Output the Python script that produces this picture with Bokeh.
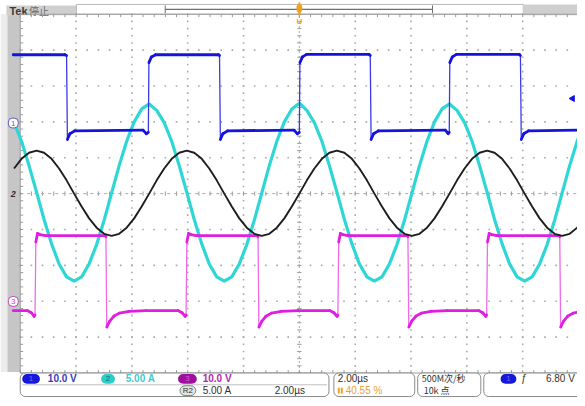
from bokeh.plotting import figure
from bokeh.models import Range1d
from bokeh.embed import file_html
from bokeh.resources import INLINE
from bokeh.core.properties import value
import numpy as np

# ---------------- data ----------------
# time axis: microseconds, trigger at 0, 2.00 us/div
sine_t = [-10.222, -9.953, -9.684, -9.415, -9.146, -8.877, -8.608, -8.339, -8.070, -7.801,
          -7.532, -7.263, -6.994, -6.725, -6.456, -6.187, -5.918, -5.649, -5.380, -5.111,
          -4.842, -4.573, -4.304, -4.035, -3.766, -3.497, -3.228, -2.959, -2.690, -2.421,
          -2.152, -1.883, -1.614, -1.345, -1.076, -0.807, -0.538, -0.269, 0.000, 0.269,
          0.538, 0.807, 1.076, 1.345, 1.614, 1.883, 2.152, 2.421, 2.690, 2.959,
          3.228, 3.497, 3.766, 4.035, 4.304, 4.573, 4.842, 5.111, 5.380, 5.649,
          5.918, 6.187, 6.456, 6.725, 6.994, 7.263, 7.532, 7.801, 8.070, 8.339,
          8.608, 8.877, 9.146, 9.415, 9.684, 9.953, 10.222]

# CH2 (cyan) current, A  (5.00 A/div)
ch2_A = [9.9, 7.3, 3.9, 0.2, -3.6, -7.0, -9.8, -11.6, -12.2, -11.6, -9.8, -7.1, -3.7, 0.1, 3.9, 7.3, 10.0, 11.8,
         12.5, 11.6, 9.9, 7.3, 3.9, 0.2, -3.6, -7.0, -9.8, -11.6, -12.2, -11.6, -9.8, -7.1, -3.7, 0.1, 3.9, 7.3, 10.0, 11.8,
         12.6, 11.6, 9.9, 7.3, 3.9, 0.2, -3.6, -7.0, -9.8, -11.6, -12.2, -11.6, -9.8, -7.1, -3.7, 0.1, 3.9, 7.3, 10.0, 11.8,
         12.5, 11.6, 9.9, 7.3, 3.9, 0.2, -3.6, -7.0, -9.8, -11.6, -12.2, -11.6, -9.8, -7.1, -3.7, 0.1, 3.9, 7.3, 10.0]

# R2 (black) reference current, A  (5.00 A/div)
r2_A = [3.5, 4.85, 5.7, 6.0, 5.7, 4.85, 3.5, 1.85, 0.0, -1.8, -3.45, -4.75, -5.6, -5.9, -5.6, -4.75, -3.45, -1.8,
        0.0, 1.85, 3.5, 4.85, 5.7, 6.0, 5.7, 4.85, 3.5, 1.85, 0.0, -1.8, -3.45, -4.75, -5.6, -5.9, -5.6, -4.75, -3.45, -1.8,
        0.0, 1.85, 3.5, 4.85, 5.7, 6.0, 5.7, 4.85, 3.5, 1.85, 0.0, -1.8, -3.45, -4.75, -5.6, -5.9, -5.6, -4.75, -3.45, -1.8,
        0.0, 1.85, 3.5, 4.85, 5.7, 6.0, 5.7, 4.85, 3.5, 1.85, 0.0, -1.8, -3.45, -4.75, -5.6, -5.9, -5.6, -4.75, -3.45]

# CH1 (blue) voltage, V (10.0 V/div)
ch1_t = [-10.25, -8.40, -8.34, -8.31, -8.22, -8.05, -5.60, -5.48, -5.41, -5.39, -5.30, -5.15,
         -2.90, -2.86, -2.83, -2.74, -2.57, -0.19, -0.07, 0.00, 0.02, 0.11, 0.26,
         2.50, 2.54, 2.57, 2.66, 2.83, 5.23, 5.33, 5.37, 5.39, 5.48, 5.63,
         7.88, 7.92, 7.95, 8.04, 8.21, 10.25]
ch1_V = [19.0, 19.0, 18.8, -4.6, -3.0, -2.2, -2.0, -3.0, -2.6, 16.8, 18.4, 19.0,
         19.0, 18.8, -4.6, -3.0, -2.2, -2.0, -3.0, -2.6, 16.8, 18.4, 19.1,
         19.1, 18.8, -4.6, -3.0, -2.2, -2.0, -3.0, -2.6, 16.8, 18.4, 19.1,
         19.1, 18.8, -4.6, -3.0, -2.2, -2.0]

# CH3 (magenta) voltage, V (10.0 V/div)
ch3_t = [-10.25, -9.75, -9.60, -9.50, -9.47, -9.44, -9.38, -9.30, -9.10,
         -6.96, -6.93, -6.90, -6.80, -6.65, -6.45, -6.10, -5.50,
         -4.35, -4.20, -4.09, -4.06, -4.03, -3.97, -3.89, -3.69,
         -1.51, -1.48, -1.45, -1.35, -1.20, -1.00, -0.65, -0.05,
         1.09, 1.24, 1.35, 1.38, 1.41, 1.47, 1.55, 1.75,
         3.86, 3.89, 3.92, 4.02, 4.17, 4.37, 4.72, 5.30,
         6.42, 6.57, 6.68, 6.71, 6.74, 6.80, 6.88, 7.08,
         9.30, 9.33, 9.36, 9.46, 9.61, 9.81, 10.16, 10.30]
ch3_V = [-2.6, -2.6, -3.2, -4.2, -3.8, 16.5, 18.9, 18.6, 18.3,
         18.3, 18.0, -7.2, -5.6, -4.2, -3.3, -2.8, -2.6,
         -2.6, -3.2, -4.2, -3.8, 16.5, 18.9, 18.6, 18.3,
         18.3, 18.0, -7.2, -5.6, -4.2, -3.3, -2.8, -2.6,
         -2.6, -3.2, -4.2, -3.8, 16.5, 18.9, 18.6, 18.3,
         18.3, 18.0, -7.2, -5.6, -4.2, -3.3, -2.8, -2.6,
         -2.6, -3.2, -4.2, -3.8, 16.5, 18.9, 18.6, 18.3,
         18.3, 18.0, -7.2, -5.6, -4.2, -3.3, -2.8, -2.7]

# vertical settings: volts (or amps) per division and ground offset in divisions
scale = {"ch1": 10.0, "ch2": 5.0, "ch3": 10.0, "r2": 5.0}
offset = {"ch1": 1.97, "ch2": 0.0, "ch3": -3.0, "r2": 0.0}
trig_level_V = 6.80

row1_labels = ["10.0 V", "5.00 A", "10.0 V"]
row2_labels = ["5.00 A", "2.00\u00b5s"]
timebase_label = "2.00\u00b5s"
position_label = "40.55 %"
rate_label = "500M\u6b21/\u79d2"
points_label = "10k \u70b9"
trig_label = "6.80 V"

# ---------------- layout helpers (reference pixel -> data coords) ----------------
X0, PXU = 303.0, 28.3    # px of t=0, px per microsecond
Y0, PYD = 197.0, 36.6    # px of centre line, px per division


def X(px):
    return (px - X0) / PXU


def Y(py):
    return (Y0 - py) / PYD


def W(dpx):
    return dpx / PXU


def H(dpy):
    return dpy / PYD


p = figure(width=577, height=398, output_backend="svg", toolbar_location=None,
           x_range=Range1d(X(0), X(585)), y_range=Range1d(Y(406), Y(0)),
           x_axis_type=None, y_axis_type=None, min_border=0)
p.outline_line_color = None
p.grid.visible = False
p.background_fill_color = "white"

FONT = value("Liberation Sans")
CJK = value("Noto Sans CJK SC")

# ---------------- frame decorations ----------------
p.quad(left=[X(0)], right=[X(7)], top=[Y(14)], bottom=[Y(379)], fill_color="#ececec", line_color=None)
p.quad(left=[X(7)], right=[X(20)], top=[Y(14)], bottom=[Y(379)], fill_color="#c6c6c6", line_color=None)
p.quad(left=[X(6)], right=[X(77)], top=[Y(5)], bottom=[Y(15)], fill_color="#cfcfcf", line_color=None)
p.quad(left=[X(77)], right=[X(530)], top=[Y(4)], bottom=[Y(14)], fill_color="white", line_color="#b8b8b8")
p.quad(left=[X(530)], right=[X(590)], top=[Y(4)], bottom=[Y(15)], fill_color="#cfcfcf", line_color=None)
p.segment(x0=[X(167)], y0=[Y(9)], x1=[X(438)], y1=[Y(9)], line_color="#707070", line_width=1.2)
p.segment(x0=[X(167), X(438)], y0=[Y(5), Y(5)], x1=[X(167), X(438)], y1=[Y(13), Y(13)],
          line_color="#707070", line_width=1)
p.text(x=[X(9)], y=[Y(10.5)], text=["Tek"], text_font=FONT, text_font_size="11px",
       text_font_style="bold", text_color="#3a3a3a", text_baseline="middle")
p.text(x=[X(29)], y=[Y(10.5)], text=["\u505c\u6b62"], text_font=CJK, text_font_size="10px",
       text_color="#6a6a6a", text_baseline="middle")

# graticule
divs_x = np.arange(-10, 10.01, 2.0)      # us, one division = 2 us
divs_y = np.arange(-5, 5.01, 1.0)
fine_x = np.arange(-10, 10.001, 0.4)     # 0.2 div steps
fine_y = np.arange(-5, 5.001, 0.2)
dots_x, dots_y = [], []
for t in divs_x[1:-1]:
    if abs(t) < 1e-9:
        continue
    dots_x += [t] * len(fine_y)
    dots_y += list(fine_y)
for d in divs_y[1:-1]:
    if abs(d) < 1e-9:
        continue
    dots_x += list(fine_x)
    dots_y += [d] * len(fine_x)
p.scatter(dots_x, dots_y, marker="square", size=1.6, fill_color="#a8a8a8", line_color=None)
p.segment(x0=list(fine_x), y0=[H(-2.2)] * len(fine_x), x1=list(fine_x), y1=[H(2.2)] * len(fine_x),
          line_color="#9a9a9a", line_width=1)
p.segment(x0=[-10], y0=[0], x1=[10], y1=[0], line_color="#a8a8a8", line_width=1, line_dash="3 4")
p.segment(x0=[W(-2.2)] * len(fine_y), y0=list(fine_y), x1=[W(2.2)] * len(fine_y), y1=list(fine_y),
          line_color="#9a9a9a", line_width=1)
p.segment(x0=[0], y0=[-5], x1=[0], y1=[5], line_color="#a8a8a8", line_width=1, line_dash="2 3")
p.segment(x0=[-10, -10, -10], y0=[-5, 5, -5], x1=[10, 10, -10], y1=[-5, 5, 5],
          line_color="#9a9a9a", line_width=1)
p.segment(x0=list(fine_x), y0=[5] * len(fine_x), x1=list(fine_x), y1=[5 - H(3)] * len(fine_x),
          line_color="#9a9a9a", line_width=1)
p.segment(x0=list(fine_x), y0=[-5] * len(fine_x), x1=list(fine_x), y1=[-5 + H(3)] * len(fine_x),
          line_color="#9a9a9a", line_width=1)
p.segment(x0=[-10] * len(fine_y), y0=list(fine_y), x1=[-10 + W(3)] * len(fine_y), y1=list(fine_y),
          line_color="#9a9a9a", line_width=1)

# ---------------- waveforms ----------------
def to_div(vals, ch):
    return [offset[ch] + v / scale[ch] for v in vals]


def square_trace(ts, vs, ch, color, edge_color):
    ys = to_div(vs, ch)
    # thin trace everywhere (fast edges are drawn thin on the scope)
    p.line(ts, ys, line_color=edge_color, line_width=1.3)
    # thicker, noisy-looking flat parts
    x0, y0, x1, y1 = [], [], [], []
    for i in range(len(ts) - 1):
        if abs(ys[i + 1] - ys[i]) > 0.5 and (ts[i + 1] - ts[i]) < 0.06:
            continue
        x0.append(ts[i]); y0.append(ys[i]); x1.append(ts[i + 1]); y1.append(ys[i + 1])
    p.segment(x0=x0, y0=y0, x1=x1, y1=y1, line_color=color, line_width=2.8, line_cap="round")


p.line(sine_t, to_div(ch2_A, "ch2"), line_color="#2fd6d6", line_width=3.2)
square_trace(ch3_t, ch3_V, "ch3", "#e01ee0", "#ee6aee")
p.line(sine_t, to_div(r2_A, "r2"), line_color="#1e1e1e", line_width=1.9)
square_trace(ch1_t, ch1_V, "ch1", "#1414dc", "#3a3ae6")

# trigger level marker (right) and trigger position marker (top)
p.scatter([X(580)], [offset["ch1"] + trig_level_V / scale["ch1"]], marker="triangle",
          angle=np.pi / 2, size=6, fill_color="#1414dc", line_color="#1414dc")
p.segment(x0=[0], y0=[Y(2)], x1=[0], y1=[Y(15)], line_color="#f0a020", line_width=2)
p.ellipse(x=[0], y=[Y(8)], width=W(6), height=H(9), fill_color="#f0a020", line_color=None)
p.text(x=[0], y=[Y(21)], text=["U"], text_font=FONT, text_font_size="8px", text_font_style="bold",
       text_color="#f0a020", text_align="center", text_baseline="middle")

# channel ground markers (left)
p.quad(left=[X(8)], right=[X(18)], top=[Y(120)], bottom=[Y(130)], fill_color="white",
       line_color="#5a5ac8", border_radius=4)
p.text(x=[X(13)], y=[Y(125)], text=["1"], text_font=FONT, text_font_size="8px",
       text_color="#5a5ac8", text_align="center", text_baseline="middle")
p.text(x=[X(13)], y=[Y(197)], text=["2"], text_font=FONT, text_font_size="9px", text_font_style="bold italic",
       text_color="#303030", text_align="center", text_baseline="middle")
p.quad(left=[X(8)], right=[X(18)], top=[Y(302)], bottom=[Y(312)], fill_color="white",
       line_color="#c040c0", border_radius=4)
p.text(x=[X(13)], y=[Y(307)], text=["3"], text_font=FONT, text_font_size="8px",
       text_color="#c040c0", text_align="center", text_baseline="middle")

# ---------------- status readouts ----------------
for l, r in [(20, 333), (338, 420), (423, 487), (490, 592)]:
    p.quad(left=[X(l)], right=[X(r)], top=[Y(380)], bottom=[Y(404)], fill_color="white",
           line_color="#8a8a8a", border_radius=5)
p.segment(x0=[X(22)], y0=[Y(392)], x1=[X(331)], y1=[Y(392)], line_color="#c0c0c0", line_width=1)

ROW1, ROW2 = 386, 398
pills = [(22, 40, "#1818d8", "1", "#6a6aff"), (102, 116, "#2ccccc", "2", "#0e7070"),
         (180, 199, "#a010a0", "3", "#d060d0"), (507, 523, "#1818d8", "1", "#6a6aff")]
for l, r, c, t, tc in pills:
    p.quad(left=[X(l)], right=[X(r)], top=[Y(ROW1 - 5)], bottom=[Y(ROW1 + 5)], fill_color=c,
           line_color=None, border_radius=5)
    p.text(x=[X((l + r) / 2)], y=[Y(ROW1)], text=[t], text_font=FONT, text_font_size="8px",
           text_color=tc, text_align="center", text_baseline="middle")
p.quad(left=[X(182)], right=[X(198)], top=[Y(ROW2 - 5)], bottom=[Y(ROW2 + 5)], fill_color="#e4e4e4",
       line_color="#808080", border_radius=5)
p.text(x=[X(190)], y=[Y(ROW2)], text=["R2"], text_font=FONT, text_font_size="8px",
       text_color="#303030", text_align="center", text_baseline="middle")

row1_x = [48, 127, 205]
row1_c = ["#3a3ab8", "#3ccccc", "#b028b0"]
for xx, t, c in zip(row1_x, row1_labels, row1_c):
    p.text(x=[X(xx)], y=[Y(ROW1)], text=[t], text_font=FONT, text_font_size="10px",
           text_font_style="bold", text_color=c, text_baseline="middle")
for xx, t in zip([205, 278], row2_labels):
    p.text(x=[X(xx)], y=[Y(ROW2)], text=[t], text_font=FONT, text_font_size="10px",
           text_color="#303030", text_baseline="middle")
p.text(x=[X(342)], y=[Y(ROW1)], text=[timebase_label], text_font=FONT, text_font_size="10px",
       text_color="#303030", text_baseline="middle")
p.quad(left=[X(342), X(345)], right=[X(344), X(347)], top=[Y(ROW2 - 3)] * 2, bottom=[Y(ROW2 + 3)] * 2,
       fill_color="#f0a020", line_color=None)
p.text(x=[X(350)], y=[Y(ROW2)], text=[position_label], text_font=FONT, text_font_size="10px",
       text_color="#f0a020", text_baseline="middle")
p.text(x=[X(427)], y=[Y(ROW1)], text=[rate_label], text_font=CJK, text_font_size="9px",
       text_color="#303030", text_baseline="middle")
p.text(x=[X(429)], y=[Y(ROW2)], text=[points_label], text_font=CJK, text_font_size="9px",
       text_color="#303030", text_baseline="middle")
p.text(x=[X(528)], y=[Y(ROW1)], text=["\u0192"], text_font=FONT, text_font_size="10px",
       text_color="#303030", text_baseline="middle")
p.text(x=[X(553)], y=[Y(ROW1)], text=[trig_label], text_font=FONT, text_font_size="10px",
       text_color="#303030", text_baseline="middle")

open("out.html", "w").write(file_html(p, INLINE))
